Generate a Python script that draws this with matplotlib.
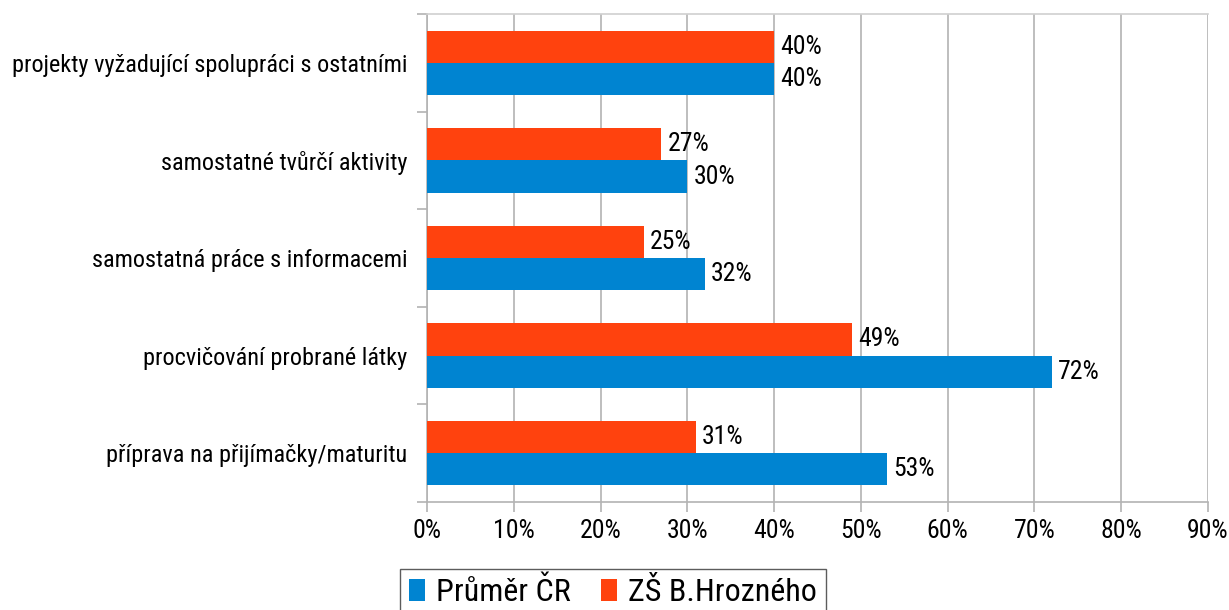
import matplotlib
matplotlib.use("Agg")
import matplotlib.pyplot as plt
from matplotlib import font_manager
import numpy as np
from matplotlib.ticker import FuncFormatter, FixedLocator

# ---- pick a condensed font if available ----
def pick_font():
    prefs = ["Ubuntu Condensed", "Roboto Condensed", "Liberation Sans Narrow",
             "Open Sans Condensed", "Noto Sans Condensed"]
    fl = font_manager.fontManager.ttflist
    names = {f.name for f in fl}
    for p in prefs:
        if p in names:
            return p, "normal"
    for f in fl:
        if f.name == "DejaVu Sans" and "Condensed" in f.fname and f.style == "normal":
            return "DejaVu Sans", "condensed"
    return "DejaVu Sans", "normal"

fam, stretch = pick_font()
plt.rcParams['font.family'] = [fam, 'DejaVu Sans']
plt.rcParams['font.stretch'] = stretch

categories = [
    "projekty vyžadující spolupráci s ostatními",
    "samostatné tvůrčí aktivity",
    "samostatná práce s informacemi",
    "procvičování probrané látky",
    "příprava na přijímačky/maturitu",
]
prumer_cr = [40, 30, 32, 72, 53]
zs_hrozneho = [40, 27, 25, 49, 31]
series_names = ["Průměr ČR", "ZŠ B.Hrozného"]
colors = ["#0084d1", "#ff420e"]

fig = plt.figure(figsize=(12.29, 6.10), dpi=100)
ax = fig.add_axes([427/1229, 1-502/610, (1208-427)/1229, (502-14)/610])

n = len(categories)
y = np.arange(n)[::-1].astype(float)
h = 0.33
bars_blue = ax.barh(y - h/2, prumer_cr, height=h, color=colors[0], label=series_names[0], zorder=3)
bars_orange = ax.barh(y + h/2, zs_hrozneho, height=h, color=colors[1], label=series_names[1], zorder=3)

fs_lab = 17.5
fs_val = 18.5
for bars, vals in ((bars_blue, prumer_cr), (bars_orange, zs_hrozneho)):
    for b, v in zip(bars, vals):
        ax.text(b.get_width() + 0.7, b.get_y() + b.get_height()/2, f"{v}%",
                va="center", ha="left", fontsize=fs_val, zorder=4)

ax.set_xlim(0, 90)
ax.set_ylim(-0.5, n - 0.5)
ax.xaxis.set_major_locator(FixedLocator(np.arange(0, 91, 10)))
ax.xaxis.set_major_formatter(FuncFormatter(lambda v, p: f"{int(v)}%"))
ax.set_yticks(y)
ax.set_yticklabels(categories, fontsize=fs_lab)
ax.yaxis.set_minor_locator(FixedLocator(np.arange(-0.5, n, 1.0)))
ax.tick_params(axis='y', which='major', length=0, pad=14)
ax.tick_params(axis='y', which='minor', length=7, color="#b3b3b3", width=1.2)
ax.tick_params(axis='x', which='major', length=7.5, color="#b3b3b3", width=1.2, labelsize=fs_val, pad=5)
ax.grid(axis='x', color="#b3b3b3", linewidth=1.2, zorder=0)
ax.spines["right"].set_visible(False)
ax.spines["top"].set_color("#d0d0d0")
ax.spines["top"].set_linewidth(1.2)
for s in ["left", "bottom"]:
    ax.spines[s].set_color("#b3b3b3")
    ax.spines[s].set_linewidth(1.2)

handles = [bars_blue, bars_orange]
leg = fig.legend(handles, series_names, loc="lower left", bbox_to_anchor=(400/1229, -0.01),
                 ncol=2, fontsize=23, frameon=True, fancybox=False, edgecolor="#333333",
                 handlelength=0.5, handleheight=0.65, handletextpad=0.35, columnspacing=0.95,
                 borderpad=0.28, borderaxespad=0)
leg.get_frame().set_linewidth(1.0)

fig.savefig("out.png", dpi=100)
